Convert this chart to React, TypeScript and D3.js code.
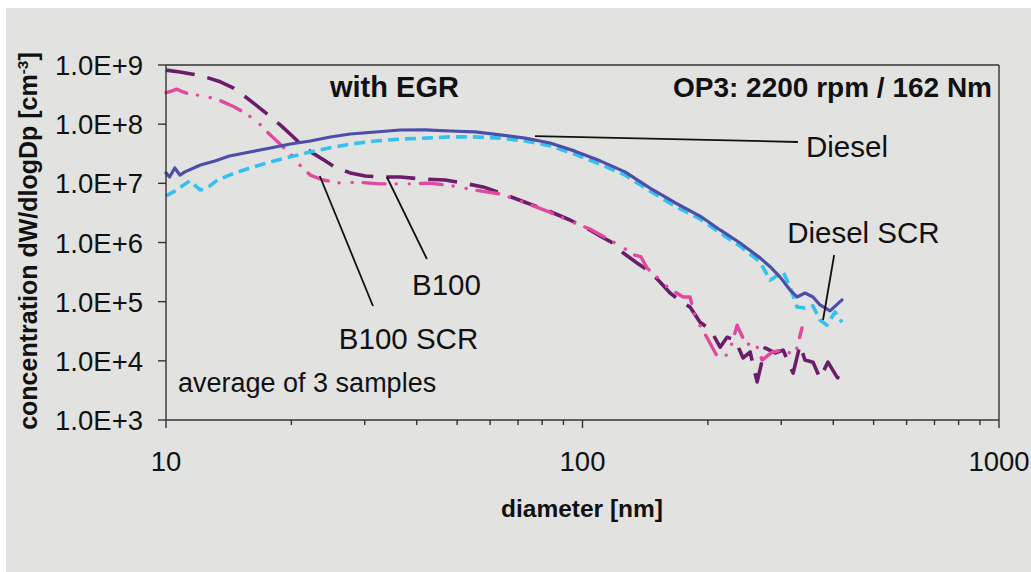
import React from "react";
import * as d3 from "d3";

// ---------- axes ----------
const yTickValues = [1e3, 1e4, 1e5, 1e6, 1e7, 1e8, 1e9];
const yTickLabels = ["1.0E+3", "1.0E+4", "1.0E+5", "1.0E+6", "1.0E+7", "1.0E+8", "1.0E+9"];
const xMajorTicks = [10, 100, 1000];
const xTickLabels = ["10", "100", "1000"];
const xMinorTicks = [20, 30, 40, 50, 60, 70, 80, 90, 200, 300, 400, 500, 600, 700, 800, 900];

// ---------- data: diameter [nm] / concentration [cm^-3] ----------
const dieselD = [10.0, 10.2, 10.5, 10.8, 11.1, 12.1, 13.1, 14.2, 15.9, 17.8, 19.9, 22.2, 24.8, 27.7, 31.8, 36.5, 41.9, 48.1, 55.2, 63.4, 72.8, 83.6, 95.9, 110.2, 126.5, 145.2, 166.8, 191.5, 214.0, 239.0, 266.9, 282.1, 298.2, 315.1, 327.3, 342.2, 357.6, 371.7, 392.9, 419.8];
const dieselV = [1.5e7, 1.28e7, 1.82e7, 1.38e7, 1.56e7, 2.04e7, 2.39e7, 2.9e7, 3.39e7, 3.96e7, 4.62e7, 5.2e7, 6.07e7, 6.82e7, 7.38e7, 7.97e7, 8.0e7, 7.67e7, 7.4e7, 6.6e7, 5.8e7, 4.8e7, 3.5e7, 2.4e7, 1.56e7, 8.3e6, 4.7e6, 2.8e6, 1.63e6, 9.8e5, 5.5e5, 3.9e5, 2.6e5, 1.57e5, 1.2e5, 1.4e5, 1.2e5, 8.8e4, 7.0e4, 1.07e5];

const dieselScrD = [10.0, 10.5, 11.1, 11.4, 12.1, 12.7, 13.3, 14.2, 15.9, 17.8, 19.9, 22.2, 24.8, 27.7, 31.8, 36.5, 41.9, 48.1, 55.2, 63.4, 72.8, 83.6, 95.9, 110.2, 126.5, 145.2, 166.8, 191.5, 214.0, 239.0, 266.9, 282.1, 303.1, 315.1, 327.3, 342.2, 357.6, 371.7, 386.4, 403.9, 419.8];
const dieselScrV = [6.1e6, 7.4e6, 9.7e6, 1.1e7, 7.7e6, 8.9e6, 1.14e7, 1.38e7, 1.82e7, 2.3e7, 2.8e7, 3.4e7, 4.0e7, 4.6e7, 5.2e7, 5.6e7, 5.8e7, 6.1e7, 6.1e7, 5.8e7, 5.2e7, 4.3e7, 3.1e7, 2.1e7, 1.38e7, 7.4e6, 4.1e6, 2.5e6, 1.45e6, 8.7e5, 4.7e5, 2.3e5, 3.2e5, 1.77e5, 8.1e4, 7.8e4, 8.5e4, 4.9e4, 4.0e4, 6.7e4, 4.5e4];

const b100D = [10.0, 10.8, 11.6, 12.4, 13.5, 14.5, 15.5, 16.6, 17.6, 18.8, 20.1, 21.2, 22.4, 24.1, 25.7, 27.7, 30.1, 32.6, 36.5, 41.4, 46.8, 51.7, 57.7, 63.4, 72.8, 82.2, 93.3, 104.2, 110.2, 118.4, 125.1, 135.2, 145.2, 153.5, 162.3, 174.4, 181.2, 191.5, 199.1, 204.7, 214.0, 222.4, 232.5, 243.0, 252.6, 262.6, 274.4, 290.0, 303.1, 320.4, 332.8, 342.2, 357.6, 371.7, 388.5, 408.4, 419.8];
const b100V = [8.2e8, 7.6e8, 7.0e8, 6.3e8, 5.2e8, 4.1e8, 2.9e8, 2.0e8, 1.43e8, 9.7e7, 6.3e7, 4.4e7, 3.3e7, 2.4e7, 1.8e7, 1.5e7, 1.33e7, 1.28e7, 1.28e7, 1.18e7, 1.14e7, 1.01e7, 8.7e6, 6.9e6, 4.8e6, 3.5e6, 2.4e6, 1.63e6, 1.29e6, 9.8e5, 6.7e5, 4.5e5, 3.2e5, 2.15e5, 1.4e5, 9.5e4, 8.1e4, 4.5e4, 3.7e4, 3.0e4, 1.7e4, 2.5e4, 2.25e4, 1.12e4, 1.41e4, 4.4e3, 1.65e4, 1.36e4, 1.52e4, 6.2e3, 1.85e4, 1.03e4, 9.5e3, 5.1e3, 9.5e3, 5.3e3, 4.7e3];

const b100ScrD = [10.0, 10.3, 10.6, 11.0, 11.4, 12.4, 13.5, 14.6, 15.6, 16.6, 17.6, 18.8, 20.1, 21.0, 22.2, 23.8, 26.2, 28.7, 32.6, 39.2, 43.0, 48.9, 55.2, 63.4, 72.8, 82.2, 93.3, 104.2, 116.4, 126.5, 133.7, 138.2, 142.9, 149.3, 157.9, 166.8, 174.4, 181.2, 186.3, 200.2, 210.4, 223.6, 228.6, 235.1, 247.1, 259.7, 269.9, 285.3, 301.5, 323.9, 336.5];
const b100ScrV = [3.4e8, 3.6e8, 3.9e8, 3.5e8, 3.2e8, 3.0e8, 2.5e8, 1.95e8, 1.49e8, 1.09e8, 7.1e7, 4.6e7, 2.9e7, 2.0e7, 1.38e7, 1.14e7, 1.01e7, 1.05e7, 9.8e6, 9.8e6, 1.01e7, 9.0e6, 7.7e6, 6.6e6, 4.7e6, 3.4e6, 2.3e6, 1.69e6, 1.1e6, 7.8e5, 6.1e5, 5.7e5, 3.7e5, 2.8e5, 1.9e5, 1.46e5, 1.2e5, 1.2e5, 5.5e4, 2.3e4, 1.2e4, 1.26e4, 2.0e4, 4.0e4, 1.85e4, 2.1e4, 1.03e4, 1.4e4, 1.52e4, 1.26e4, 3.6e4];

// ---------- annotations (data coordinates) ----------
const annotationLabels = ["Diesel", "Diesel SCR", "B100", "B100 SCR"];
const leaderFrom = [[76.9, 6.3e7], [402, 6.15e5], [33.9, 1.28e7], [23.4, 1.33e7]];
const leaderTo = [[329, 5.0e7], [378, 4.9e4], [42.3, 5.26e5], [31.4, 8.45e4]];
const labelAt = [[344, 2.8e7], [310, 9.8e5], [38.96, 1.3e5], [26.0, 1.58e4]];

const FONT = "'Liberation Sans', Arial, Helvetica, sans-serif";

export default function App() {
  const W = 1031;
  const H = 572;
  const left = 166, right = 999, top = 65, bottom = 420;

  const x = d3.scaleLog().domain([10, 1000]).range([left, right]);
  const y = d3.scaleLog().domain([1e3, 1e9]).range([bottom, top]);

  const line = d3
    .line<[number, number]>()
    .x((d) => x(d[0]))
    .y((d) => y(d[1]));

  const zip = (a: number[], b: number[]) => a.map((v, i) => [v, b[i]] as [number, number]);

  const series = [
    { d: zip(b100D, b100V), color: "#6b1c6b", width: 3.6, dash: "29,13", cap: "butt" },
    { d: zip(b100ScrD, b100ScrV), color: "#e2499d", width: 3.4, dash: "22,11,0.1,13,0.1,11", cap: "round" },
    { d: zip(dieselScrD, dieselScrV), color: "#33c2f0", width: 3.6, dash: "11,6", cap: "butt" },
    { d: zip(dieselD, dieselV), color: "#4b4fa9", width: 3.2, dash: "none", cap: "round" },
  ];

  const textColor = "#111";

  return (
    <svg
      width={W}
      height={H}
      style={{ position: "absolute", left: 0, top: 0, display: "block" }}
      fontFamily={FONT}
    >
      <rect x={0} y={0} width={W} height={H} fill="#ffffff" />
      <rect x={6} y={8} width={W - 6} height={H - 8} fill="#e2e3e1" />

      {/* series */}
      <g fill="none" strokeLinejoin="round">
        {series.map((s, i) => (
          <path
            key={i}
            d={line(s.d) || ""}
            stroke={s.color}
            strokeWidth={s.width}
            strokeDasharray={s.dash}
            strokeLinecap={s.cap as any}
          />
        ))}
      </g>

      {/* frame */}
      <g stroke="#333" strokeWidth={1.4} fill="none">
        <line x1={left} y1={top} x2={right} y2={top} />
        <line x1={right} y1={top} x2={right} y2={bottom} />
        <line x1={left} y1={top} x2={left} y2={bottom} />
        <line x1={left} y1={bottom} x2={right} y2={bottom} />
        {yTickValues.map((v, i) => (
          <line key={"yt" + i} x1={left - 8} x2={left} y1={y(v)} y2={y(v)} />
        ))}
        {xMajorTicks.map((v, i) => (
          <line key={"xt" + i} x1={x(v)} x2={x(v)} y1={bottom} y2={bottom + 8} />
        ))}
        {xMinorTicks.map((v, i) => (
          <line key={"xm" + i} x1={x(v)} x2={x(v)} y1={bottom} y2={bottom + 5} />
        ))}
      </g>

      {/* tick labels */}
      <g fill={textColor} fontSize={27.5}>
        {yTickValues.map((v, i) => (
          <text key={"yl" + i} x={143} y={y(v) + 10} textAnchor="end">
            {yTickLabels[i]}
          </text>
        ))}
        {xMajorTicks.map((v, i) => (
          <text key={"xl" + i} x={x(v)} y={471} textAnchor="middle">
            {xTickLabels[i]}
          </text>
        ))}
      </g>

      {/* axis titles */}
      <text x={582} y={517} textAnchor="middle" fontWeight="bold" fontSize={24.5} fill={textColor}>
        diameter [nm]
      </text>
      <text
        transform="translate(37,241) rotate(-90)"
        textAnchor="middle"
        fontWeight="bold"
        fontSize={25}
        fill={textColor}
      >
        concentration dW/dlogDp [cm
        <tspan fontSize={15.5} dy={-9}>-3</tspan>
        <tspan dy={9}>]</tspan>
      </text>

      {/* annotations */}
      <g stroke="#111" strokeWidth={1.8}>
        {annotationLabels.map((_, i) => (
          <line
            key={"al" + i}
            x1={x(leaderFrom[i][0])}
            y1={y(leaderFrom[i][1])}
            x2={x(leaderTo[i][0])}
            y2={y(leaderTo[i][1])}
          />
        ))}
      </g>
      <g fill={textColor} fontSize={29.5}>
        {annotationLabels.map((t, i) => (
          <text key={"at" + i} x={x(labelAt[i][0])} y={y(labelAt[i][1])}>
            {t}
          </text>
        ))}
      </g>

      <text x={330} y={97} fontWeight="bold" fontSize={29} fill={textColor}>
        with EGR
      </text>
      <text x={992} y={97} textAnchor="end" fontWeight="bold" fontSize={28} fill={textColor}>
        OP3: 2200 rpm / 162 Nm
      </text>
      <text x={178} y={392} fontSize={27} fill={textColor}>
        average of 3 samples
      </text>
    </svg>
  );
}
